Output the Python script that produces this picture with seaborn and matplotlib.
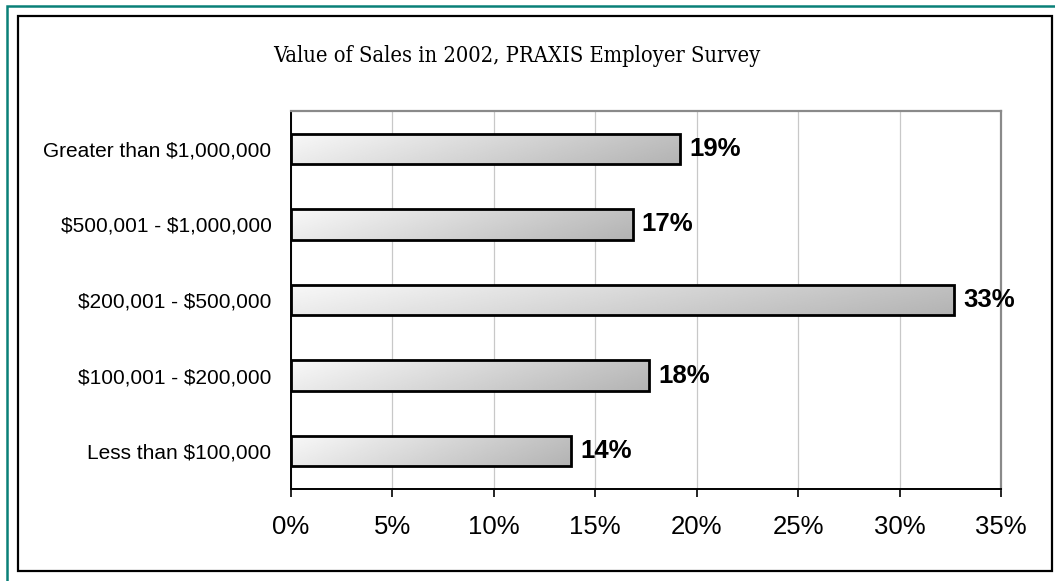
import numpy as np
import pandas as pd
import matplotlib
matplotlib.use("Agg")
import matplotlib.pyplot as plt
from matplotlib import font_manager
from matplotlib.patches import Rectangle
from matplotlib.ticker import FuncFormatter
import seaborn as sns

# Survey results: share of employers by value of sales in 2002
categories = [
    "Greater than $1,000,000",
    "$500,001 - $1,000,000",
    "$200,001 - $500,000",
    "$100,001 - $200,000",
    "Less than $100,000",
]
shares = [19.17, 16.84, 32.68, 17.66, 13.80]
x_ticks = [0, 5, 10, 15, 20, 25, 30, 35]
title = "Value of Sales in 2002, PRAXIS Employer Survey"

df = pd.DataFrame({"range": categories, "share": shares})

sns.set_theme(style="white")
plt.rcParams["font.family"] = ["Liberation Sans", "DejaVu Sans"]
plt.rcParams["text.parse_math"] = False
for key in ["text.color", "axes.labelcolor", "xtick.color", "ytick.color"]:
    plt.rcParams[key] = "black"

# Narrow serif for the title when a condensed face is installed
title_props = dict(family=["Liberation Serif", "DejaVu Serif"], fontsize=17.5)
try:
    cond = font_manager.FontProperties(family="DejaVu Serif", stretch="condensed")
    path = font_manager.findfont(cond, fallback_to_default=False)
    if "Condensed" in path:
        title_props = dict(fontproperties=font_manager.FontProperties(
            fname=path, size=15.7))
except Exception:
    pass

W, H = 1055, 581
fig = plt.figure(figsize=(W / 100, H / 100), dpi=100)
fig.patch.set_facecolor("white")

# Outer teal frame and inner black frame
fig.add_artist(Rectangle((7 / W, 1 - 620 / H), 1100 / W, (620 - 5.5) / H,
                         transform=fig.transFigure, fill=False,
                         edgecolor="#0a8078", linewidth=1.8, clip_on=False))
fig.add_artist(Rectangle((18 / W, 1 - 571 / H), (1052 - 18) / W, (571 - 16) / H,
                         transform=fig.transFigure, fill=False,
                         edgecolor="black", linewidth=1.6))

ax = fig.add_axes([291 / W, 92 / H, 710 / W, 378 / H])

sns.barplot(data=df, x="share", y="range", orient="h", ax=ax, width=0.4,
            color="white", edgecolor="black", linewidth=2.0, saturation=1)

# Gray gradient fill inside each bar: light on the left, darker to the right
gx = np.linspace(0, 1, 256)[None, :]
gy = np.linspace(0, 1, 32)[:, None]
t = np.clip(0.8 * gx + 0.2 * gy, 0, 1)
light, dark = 0.975, 0.70
grad = light + (dark - light) * t
for p in ax.patches:
    x0, y0 = p.get_x(), p.get_y()
    w, h = p.get_width(), p.get_height()
    p.set_facecolor("none")
    p.set_zorder(3)
    im = ax.imshow(grad, cmap="gray", vmin=0, vmax=1, aspect="auto",
                   extent=(x0, x0 + w, y0 + h, y0), origin="upper",
                   zorder=2, interpolation="bilinear")
    im.set_clip_path(p)

# Value labels
for i, v in enumerate(shares):
    ax.text(v + 0.45, i, f"{v:.0f}%", va="center", ha="left",
            fontsize=18.5, fontweight="bold", color="black", zorder=4)

ax.set_xlim(0, 35)
ax.set_ylim(4.5, -0.5)
ax.set_xticks(x_ticks)
ax.xaxis.set_major_formatter(FuncFormatter(lambda v, _: f"{v:.0f}%"))
ax.set_xlabel("")
ax.set_ylabel("")

ax.grid(axis="x", color="#c8c8c8", linewidth=0.9, zorder=0)
ax.set_axisbelow(True)

for side in ["left", "bottom"]:
    ax.spines[side].set_color("black")
    ax.spines[side].set_linewidth(1.4)
for side in ["top", "right"]:
    ax.spines[side].set_color("#8a8a8a")
    ax.spines[side].set_linewidth(1.6)

ax.tick_params(axis="x", direction="out", length=6, width=1.2, color="black",
               labelsize=18.5, labelcolor="black", pad=13, bottom=True)
ax.tick_params(axis="y", length=0, labelsize=15, labelcolor="black", pad=14)

fig.text(517 / W, 1 - 56 / H, title, ha="center", va="center",
         color="black", **title_props)

fig.savefig("out.png", dpi=100, facecolor="white")
